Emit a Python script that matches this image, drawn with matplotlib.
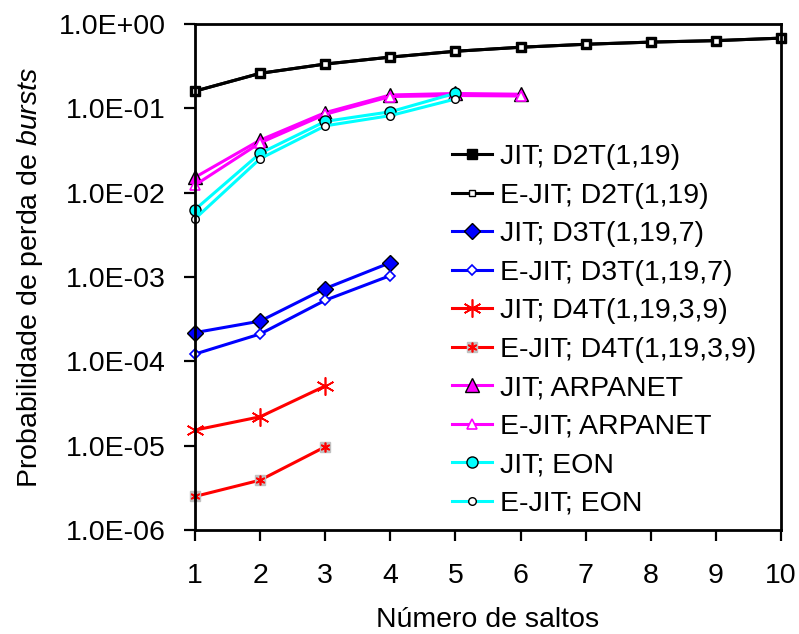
import matplotlib
matplotlib.use("Agg")
import matplotlib.pyplot as plt
from matplotlib.legend_handler import HandlerTuple

plt.rcParams['font.family'] = ['Liberation Sans', 'DejaVu Sans']
plt.rcParams['mathtext.fontset'] = 'custom'
plt.rcParams['mathtext.rm'] = 'Liberation Sans'
plt.rcParams['mathtext.it'] = 'Liberation Sans:italic'

# Burst loss probability vs number of hops
hops_d2t = [1, 2, 3, 4, 5, 6, 7, 8, 9, 10]
jit_d2t = [0.16, 0.26, 0.335, 0.405, 0.475, 0.53, 0.575, 0.61, 0.635, 0.68]
ejit_d2t = [0.16, 0.26, 0.335, 0.405, 0.475, 0.53, 0.575, 0.61, 0.635, 0.68]

hops_d3t = [1, 2, 3, 4]
jit_d3t = [2.19e-4, 3.0e-4, 7.3e-4, 1.48e-3]
ejit_d3t = [1.22e-4, 2.11e-4, 5.3e-4, 1.04e-3]

hops_d4t = [1, 2, 3]
jit_d4t = [1.53e-5, 2.2e-5, 5.1e-5]
ejit_d4t = [2.5e-6, 3.9e-6, 9.7e-6]

hops_arpa = [1, 2, 3, 4, 5, 6]
jit_arpa = [0.0152, 0.042, 0.089, 0.144, 0.150, 0.147]
ejit_arpa = [0.0123, 0.039, 0.085, 0.138, 0.142, 0.140]

hops_eon = [1, 2, 3, 4, 5]
jit_eon = [0.0063, 0.0293, 0.070, 0.091, 0.151]
ejit_eon = [0.0049, 0.0253, 0.062, 0.082, 0.129]

yticks = [1e-6, 1e-5, 1e-4, 1e-3, 1e-2, 1e-1, 1e0]
ytick_labels = ['1.0E-06', '1.0E-05', '1.0E-04', '1.0E-03', '1.0E-02', '1.0E-01', '1.0E+00']

FS = 20.5
LW = 2.2
star = (6, 2, 0)

fig = plt.figure(figsize=(7.99, 6.34), dpi=100)
ax = fig.add_axes([195 / 799, 1 - 530 / 634, 586 / 799, 506 / 634])

h = {}
h['jd2'], = ax.plot(hops_d2t, jit_d2t, color='black', lw=LW, marker='s', ms=7.2,
                    mfc='black', mec='black')
h['ed2'], = ax.plot(hops_d2t, ejit_d2t, color='black', lw=LW, marker='s', ms=5,
                    mfc='white', mec='black', mew=1)
h['jd3'], = ax.plot(hops_d3t, jit_d3t, color='blue', lw=LW, marker='D', ms=8,
                    mfc='blue', mec='black', mew=1)
h['ed3'], = ax.plot(hops_d3t, ejit_d3t, color='blue', lw=LW, marker='D', ms=5.5,
                    mfc='white', mec='blue', mew=1.2)
h['jd4'], = ax.plot(hops_d4t, jit_d4t, color='red', lw=LW, marker=star, ms=13,
                    mec='red', mew=1.2)
h['ed4bg'], = ax.plot(hops_d4t, ejit_d4t, color='red', lw=LW, marker='s', ms=6.5,
                      mfc='#c0c0c0', mec='#c0c0c0')
h['ed4'], = ax.plot(hops_d4t, ejit_d4t, linestyle='none', marker=star, ms=7,
                    mec='red', mew=1.2)
h['jar'], = ax.plot(hops_arpa, jit_arpa, color='#ff00ff', lw=LW, marker='^', ms=10,
                    mfc='#ff00ff', mec='black', mew=1)
h['ear'], = ax.plot(hops_arpa, ejit_arpa, color='#ff00ff', lw=LW, marker='^', ms=7,
                    mfc='white', mec='#ff00ff', mew=1.2)
h['jeo'], = ax.plot(hops_eon, jit_eon, color='#00ffff', lw=LW, marker='o', ms=8,
                    mfc='#00ffff', mec='black', mew=1)
h['eeo'], = ax.plot(hops_eon, ejit_eon, color='#00ffff', lw=LW, marker='o', ms=5.5,
                    mfc='white', mec='black', mew=1)
for line in h.values():
    line.set_clip_on(False)

ax.set_yscale('log')
ax.set_ylim(1e-6, 1)
ax.set_xlim(1, 10)
ax.set_xticks(range(1, 11))
ax.set_yticks(yticks)
ax.set_yticklabels(ytick_labels)
ax.minorticks_off()
ax.tick_params(axis='both', labelsize=FS, direction='out', length=8, width=1.6)
ax.tick_params(axis='y', pad=13)
ax.tick_params(axis='x', pad=16)
for s in ax.spines.values():
    s.set_linewidth(2)

ax.set_xlabel('Número de saltos', fontsize=FS, labelpad=13)
ax.set_ylabel(r'Probabilidade de perda de $\it{bursts}$', fontsize=FS, labelpad=10)

handles = [h['jd2'], h['ed2'], h['jd3'], h['ed3'], h['jd4'], (h['ed4bg'], h['ed4']),
           h['jar'], h['ear'], h['jeo'], h['eeo']]
labels = ['JIT; D2T(1,19)', 'E-JIT; D2T(1,19)', 'JIT; D3T(1,19,7)', 'E-JIT; D3T(1,19,7)',
          'JIT; D4T(1,19,3,9)', 'E-JIT; D4T(1,19,3,9)', 'JIT; ARPANET', 'E-JIT; ARPANET',
          'JIT; EON', 'E-JIT; EON']
leg = fig.legend(handles, labels, loc='upper left',
                 bbox_to_anchor=(452 / 799, 1 - 144 / 634),
                 frameon=False, fontsize=FS, handlelength=1.4, handletextpad=0.3,
                 labelspacing=0.44, borderpad=0, borderaxespad=0, numpoints=1,
                 handler_map={tuple: HandlerTuple(ndivide=1)})

fig.savefig('out.png', dpi=100)
